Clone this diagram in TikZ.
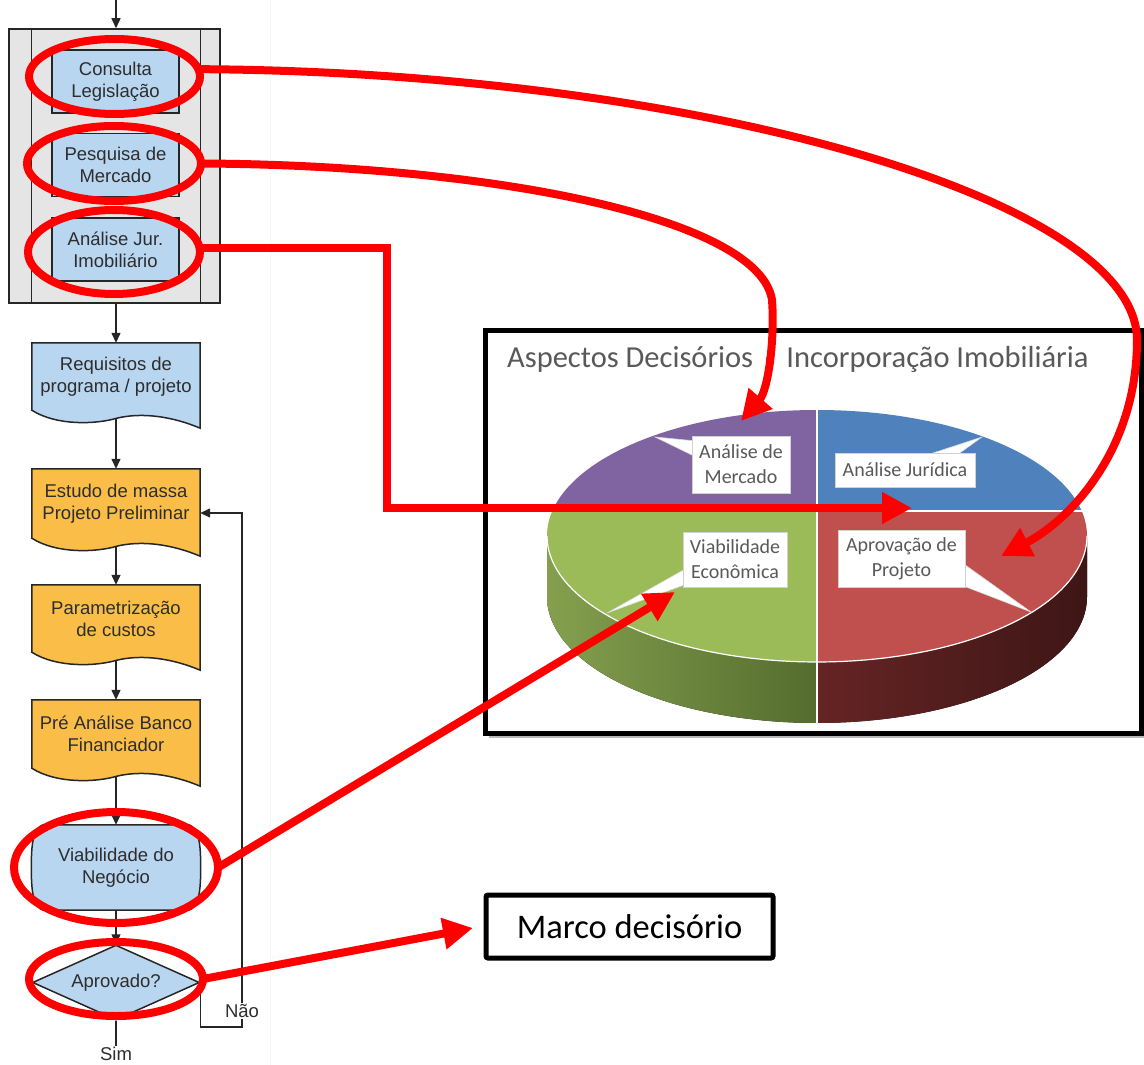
\documentclass[tikz,border=0pt]{standalone}
\usepackage{fontspec}
\usetikzlibrary{arrows.meta,shapes.geometric,calc}
\newfontfamily\flowfont{Liberation Sans}
\newfontfamily\calfont{Carlito}

\definecolor{lblue}{RGB}{185,214,240}
\definecolor{lorange}{RGB}{250,190,72}
\definecolor{frameg}{RGB}{229,229,229}
\definecolor{txtdark}{RGB}{45,45,45}
\definecolor{piepurple}{RGB}{128,100,162}
\definecolor{pieblue}{RGB}{79,129,189}
\definecolor{piegreen}{RGB}{155,187,89}
\definecolor{piered}{RGB}{192,80,77}
\definecolor{sgL}{RGB}{132,160,78}
\definecolor{sgD}{RGB}{84,108,46}
\definecolor{srL}{RGB}{102,36,36}
\definecolor{srD}{RGB}{62,22,22}
\definecolor{lblgray}{RGB}{89,89,89}

\pgfdeclarelayer{bg}
\pgfsetlayers{bg,main}

% document shape (flat top, wavy bottom) behind a named node
\newcommand\docshape[2]{%
  \begin{pgfonlayer}{bg}
  \path[draw=black!85, line width=1.5pt, fill=#2]
    (#1.north west) -- (#1.north east) -- ($(#1.south east)+(0,18)$)
    .. controls ($(#1.south west)+(140,6)$) and ($(#1.south west)+(110,2)$) .. ($(#1.south west)+(85,8)$)
    .. controls ($(#1.south west)+(65,14)$) and ($(#1.south west)+(25,16)$) .. (#1.south west) -- cycle;
  \end{pgfonlayer}}

\tikzset{
  flowtxt/.style={font=\flowfont\fontsize{18.5}{22}\selectfont, text=txtdark, align=center},
  procbox/.style={flowtxt, draw=black!85, line width=1.5pt, fill=lblue, minimum width=127pt, minimum height=63pt, inner sep=0pt},
  docnode/.style={flowtxt, minimum width=168pt, inner sep=0pt},
  flowline/.style={line width=1.4pt, draw=black!85},
  flowarrow/.style={flowline, -{Triangle[length=10pt,width=9pt]}},
  redring/.style={ellipse, draw=red, line width=8pt, inner sep=0pt, outer sep=0pt},
  redarrow/.style={draw=red, line width=8pt, -{Triangle[length=30pt,width=30pt]}},
  lbl/.style={draw=gray!35, line width=0.8pt, fill=white, inner sep=0pt, align=center,
    font=\calfont\fontsize{20}{25}\selectfont, text=lblgray},
  wedge/.style={fill=white, draw=gray!30, line width=0.6pt}
}

\begin{document}
\begin{tikzpicture}[x=1pt,y=-1pt]
\useasboundingbox (0,0) rectangle (1144,1065);

% faint edge of the flowchart panel
\draw[gray!6, line width=1pt] (270,0) -- (270,1065);

% ---------------- flowchart ----------------
\coordinate (top) at (116,0);
\node[draw=black!85, line width=1.5pt, fill=frameg, minimum width=211pt, minimum height=274pt, inner sep=0pt] (grp) at (114.5,166) {};
\draw[flowline] ($(grp.north west)+(23,0)$) -- ($(grp.south west)+(23,0)$);
\draw[flowline] ($(grp.north east)+(-20,0)$) -- ($(grp.south east)+(-20,0)$);

\node[procbox] (cons) at (115.5,81.5) {Consulta\\Legislação};
\node[procbox] (pesq) at (115.5,165) {Pesquisa de\\Mercado};
\node[procbox] (anjur) at (115.5,249.5) {Análise Jur.\\Imobiliário};

\node[docnode, minimum height=67pt] (req) at (116,376.5) {Requisitos de\\programa / projeto};
\docshape{req}{lblue}
\node[docnode, minimum height=69pt] (est) at (116,503.5) {Estudo de massa\\Projeto Preliminar};
\docshape{est}{lorange}
\node[docnode, minimum height=67pt] (par) at (116,618.5) {Parametrização\\de custos};
\docshape{par}{lorange}
\node[docnode, minimum height=68pt] (pre) at (116,734) {Pré Análise Banco\\Financiador};
\docshape{pre}{lorange}

% terminator
\node[flowtxt, minimum width=169pt, minimum height=85pt, inner sep=0pt] (viab) at (116,867.5) {Viabilidade do\\Negócio};
\begin{pgfonlayer}{bg}
\path[draw=black!85, line width=1.5pt, fill=lblue]
  ($(viab.north west)+(12,0)$) -- ($(viab.north east)+(-12,0)$)
  .. controls ($(viab.north east)+(-2,3)$) and ($(viab.east)+(0,-25)$) .. (viab.east)
  .. controls ($(viab.east)+(0,25)$) and ($(viab.south east)+(-2,-3)$) .. ($(viab.south east)+(-12,0)$)
  -- ($(viab.south west)+(12,0)$)
  .. controls ($(viab.south west)+(2,-3)$) and ($(viab.west)+(0,25)$) .. (viab.west)
  .. controls ($(viab.west)+(0,-25)$) and ($(viab.north west)+(2,3)$) .. cycle;
\end{pgfonlayer}

\node[flowtxt, diamond, aspect=2.2, draw=black!85, line width=1.5pt, fill=lblue, minimum width=167pt, minimum height=75pt, inner sep=0pt] (apr) at (116,982.5) {Aprovado?};

\node[flowtxt, anchor=north, inner sep=1pt] (sim) at (116,1046) {Sim};

% flow connectors
\draw[flowarrow] (top) -- (top |- grp.north);
\draw[flowarrow] (req.north |- grp.south) -- (req.north);
\draw[flowarrow] ([yshift=-8pt]req.south) -- (est.north);
\draw[flowarrow] ([yshift=-8pt]est.south) -- (par.north);
\draw[flowarrow] ([yshift=-8pt]par.south) -- (pre.north);
\draw[flowarrow] ([yshift=-8pt]pre.south) -- (viab.north);
\draw[flowarrow] (viab.south) -- (apr.north);
\draw[flowline] (apr.south) -- (sim.north);
\coordinate (loop) at (242,1027);
\coordinate (estin) at ([yshift=-9.5pt]est.east);
\draw[flowarrow] (apr.east) |- (loop) |- (estin);
\node[flowtxt, fill=white, inner sep=1pt] (nao) at (242,1011) {Não};

% ---------------- chart panel ----------------
\fill[gray!55] (489,337) rectangle (1146,738);
\node[draw=black, line width=5pt, fill=white, minimum width=656pt, minimum height=403pt, inner sep=0pt] (chart) at (813,531.5) {};
\node[anchor=base west, inner sep=0pt, font=\calfont\fontsize{30.5}{36}\selectfont, text=lblgray] (ttl) at (507,367)
  {Aspectos Decisórios\hspace{12pt}-\hspace{12pt}Incorporação Imobiliária};

% pie side
\fill[left color=sgL, right color=sgD]
  plot[domain=90:180, samples=50] ({817+270*cos(\x)},{536+126*sin(\x)})
  -- plot[domain=180:90, samples=50] ({817+270*cos(\x)},{597+126*sin(\x)}) -- cycle;
\fill[left color=srL, right color=srD]
  plot[domain=0:90, samples=50] ({817+270*cos(\x)},{536+126*sin(\x)})
  -- plot[domain=90:0, samples=50] ({817+270*cos(\x)},{597+126*sin(\x)}) -- cycle;
% pie top
\begin{scope}
  \clip (817,536) ellipse [x radius=270pt, y radius=126pt];
  \fill[piepurple] (540,400) rectangle (817,511);
  \fill[pieblue] (817,400) rectangle (1095,511);
  \fill[piegreen] (540,511) rectangle (817,670);
  \fill[piered] (817,511) rectangle (1095,670);
\end{scope}
\draw[white, line width=1.2pt] plot[domain=0:180, samples=80] ({817+270*cos(\x)},{536+126*sin(\x)});
\draw[white, line width=1.2pt] (817,410) -- (817,723);
\draw[white, line width=1.2pt] (552.5,511) -- (1081.5,511);

% label callouts
\draw[wedge] (655,437) -- (696,441) -- (696,457) -- cycle;
\draw[wedge] (982,437) -- (927,455) -- (957,455) -- cycle;
\draw[wedge] (607,613) -- (687,568) -- (687,584) -- cycle;
\draw[wedge] (1031,612) -- (961,562) -- (961,585) -- cycle;
\node[lbl, minimum width=98pt, minimum height=57pt] (lm) at (741,464.5) {Análise de\\Mercado};
\node[lbl, minimum width=140pt, minimum height=34pt] (lj) at (905,470) {Análise Jurídica};
\node[lbl, minimum width=104pt, minimum height=55pt] (lv) at (735,559.5) {Viabilidade\\Econômica};
\node[lbl, minimum width=127pt, minimum height=57pt] (la) at (901.5,558.5) {Aprovação de\\Projeto};

% milestone box
\node[draw=black, line width=5pt, rounded corners=2pt, fill=white, minimum width=287pt, minimum height=63pt, inner sep=0pt,
  font=\calfont\fontsize{34.5}{40}\selectfont] (marco) at (629.5,926.5) {Marco decisório};

% ---------------- red highlights ----------------
\node[redring, minimum width=171pt, minimum height=75pt] (e1) at (114.5,76.5) {};
\node[redring, minimum width=174pt, minimum height=75pt] (e2) at (114,163.5) {};
\node[redring, minimum width=172pt, minimum height=84pt] (e3) at (114,252) {};
\node[redring, minimum width=204pt, minimum height=111pt] (e4) at (116,867.5) {};
\node[redring, minimum width=174pt, minimum height=74pt] (e5) at (116,979) {};

\coordinate (tipA) at (1001,556);
\coordinate (tipM) at (741,421);
\coordinate (bend) at (387,508);
\coordinate (tipJ) at (912,508);
\coordinate (tipV) at (675,592);
\coordinate (tipK) at (473,928);

\draw[redarrow] (e1.5) .. controls (700,72) and (1137,200) .. (1137,340)
  .. controls (1137,450) and (1070,520) .. (tipA);
\draw[redarrow] (e2.east) .. controls (500,165) and (760,220) .. (772,300)
  .. controls (775,340) and (768,390) .. (tipM);
\draw[redarrow] (e3.3) -| (bend) -- (tipJ);
\draw[redarrow] (e4.east) -- (tipV);
\draw[redarrow] (e5.east) -- (tipK);

\end{tikzpicture}
\end{document}
